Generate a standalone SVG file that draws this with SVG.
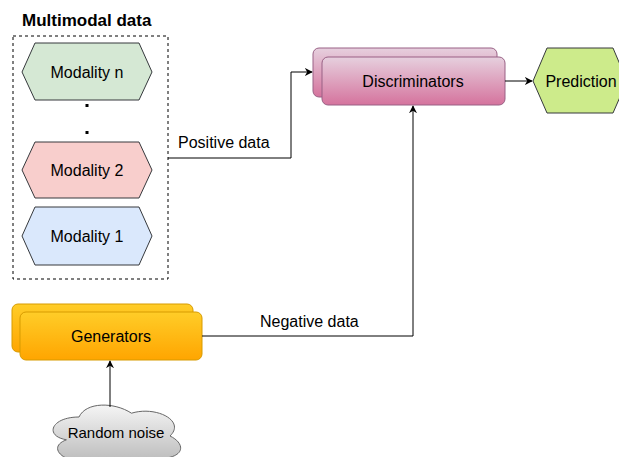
<svg xmlns="http://www.w3.org/2000/svg" width="619" height="457" viewBox="0 0 619 457">
<defs>
<linearGradient id="gPink" x1="0" y1="0" x2="0" y2="1"><stop offset="0" stop-color="#e6d0de"/><stop offset="1" stop-color="#d5739d"/></linearGradient>
<linearGradient id="gOrange" x1="0" y1="0" x2="0" y2="1"><stop offset="0" stop-color="#ffcd28"/><stop offset="1" stop-color="#ffa500"/></linearGradient>
<linearGradient id="gGray" x1="0" y1="0" x2="0" y2="1"><stop offset="0" stop-color="#f5f5f5"/><stop offset="1" stop-color="#b3b3b3"/></linearGradient>
<marker id="arr" viewBox="0 0 10 10" refX="9" refY="5" markerWidth="8" markerHeight="8" orient="auto" markerUnits="userSpaceOnUse"><path d="M0,0 L10,5 L0,10 L3,5 Z" fill="#000"/></marker>
</defs>
<style>
text{font-family:"Liberation Sans",Arial,sans-serif;font-size:16px;fill:#000}
.c{text-anchor:middle}
.hex{stroke:#36393d;stroke-width:1}
.conn{fill:none;stroke:#000;stroke-width:1}
</style>
<rect width="619" height="457" fill="#fff"/>
<g id="group-multimodal">
<text x="22" y="26" style="font-weight:bold;font-size:17px">Multimodal data</text>
<rect x="13" y="36" width="155" height="243" fill="none" stroke="#000" stroke-dasharray="3,3"/>
</g>
<g id="modality-n"><polygon class="hex" fill="#d5e8d4" points="22,72 35,43 139,43 152,72 139,100 35,100"/><text class="c" x="87" y="78">Modality n</text></g>
<g id="dots"><rect x="85.5" y="104" width="3" height="3" fill="#000"/><rect x="85.5" y="131" width="3" height="3" fill="#000"/></g>
<g id="modality-2"><polygon class="hex" fill="#f8cecc" points="22,170 35,142 139,142 152,170 139,198 35,198"/><text class="c" x="87" y="176">Modality 2</text></g>
<g id="modality-1"><polygon class="hex" fill="#dae8fc" points="22,236 35,207 139,207 152,236 139,265 35,265"/><text class="c" x="87" y="242">Modality 1</text></g>
<g id="discriminators">
<rect x="313" y="48" width="184" height="49" rx="6" fill="url(#gPink)" stroke="#996185"/>
<rect x="322" y="57" width="183" height="48" rx="6" fill="url(#gPink)" stroke="#996185"/>
<text class="c" x="413" y="87">Discriminators</text>
</g>
<g id="prediction"><polygon class="hex" fill="#cdeb8b" points="533,81 547,48 613,48 627,81 613,113 547,113"/><text class="c" x="581" y="87">Prediction</text></g>
<g id="generators">
<rect x="12" y="304" width="181" height="48" rx="6" fill="url(#gOrange)" stroke="#d79b00"/>
<rect x="20" y="312" width="182" height="48" rx="6" fill="url(#gOrange)" stroke="#d79b00"/>
<text class="c" x="111" y="342">Generators</text>
</g>
<g id="random-noise">
<path d="M79,417 C51,417 44,436 66.4,439.8 C44,448.2 69.2,466.4 87.4,458.8 C100,474 142,474 156,458.8 C186,458.8 186,443.6 170,436 C186,420.8 156,405.6 131.5,413.2 C114,401.8 86,401.8 79,417 Z" fill="url(#gGray)" stroke="#666"/>
<text class="c" x="116" y="438" style="font-size:15px">Random noise</text>
</g>
<g id="connectors">
<path class="conn" d="M168,158 H291 V72 H312" marker-end="url(#arr)"/>
<text x="178" y="148">Positive data</text>
<path class="conn" d="M505,81 H532" marker-end="url(#arr)"/>
<path class="conn" d="M202,336 H413 V106" marker-end="url(#arr)"/>
<text x="260" y="327">Negative data</text>
<path class="conn" d="M110,407 V361" marker-end="url(#arr)"/>
</g>
</svg>
